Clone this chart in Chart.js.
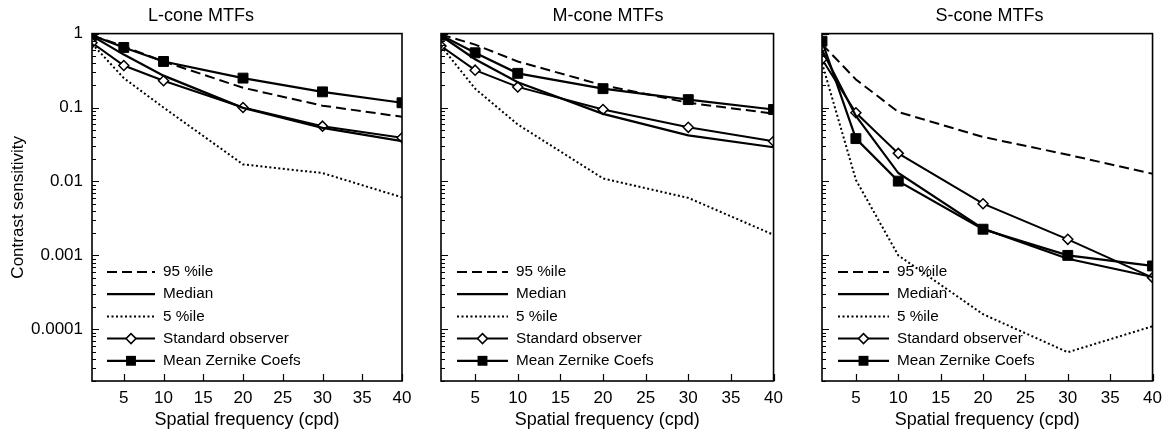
<!DOCTYPE html>
<html>
<head>
<meta charset="utf-8">
<script src="https://cdn.jsdelivr.net/npm/chart.js@4"></script>
<style>
  body { margin: 0; background: #fff; }
  .panel { position: absolute; top: 0; height: 434px; }
</style>
</head>
<body>
<div class="panel" style="left:0px;width:420px"><canvas id="c1" width="420" height="434"></canvas></div>
<div class="panel" style="left:420px;width:370px"><canvas id="c2" width="370" height="434"></canvas></div>
<div class="panel" style="left:790px;width:379px"><canvas id="c3" width="379" height="434"></canvas></div>
<script>
// spatial frequencies sampled (cpd)
const freqs = [1, 5, 10, 20, 30, 40];
const xTicks = [5, 10, 15, 20, 25, 30, 35, 40];
const yTicks = [0.0001, 0.001, 0.01, 0.1, 1];
const seriesNames = ['95 %ile', 'Median', '5 %ile', 'Standard observer', 'Mean Zernike Coefs'];

// L-cone
const lP95 = [0.95, 0.67, 0.42, 0.185, 0.106, 0.075];
const lMedian = [0.93, 0.52, 0.27, 0.099, 0.053, 0.035];
const lP5 = [0.73, 0.25, 0.1, 0.017, 0.013, 0.0061];
const lStd = [0.75, 0.37, 0.23, 0.1, 0.056, 0.039];
const lZern = [0.95, 0.65, 0.42, 0.25, 0.163, 0.116];
// M-cone
const mP95 = [0.97, 0.71, 0.42, 0.2, 0.116, 0.083];
const mMedian = [0.93, 0.45, 0.22, 0.082, 0.042, 0.029];
const mP5 = [0.68, 0.18, 0.059, 0.011, 0.006, 0.0019];
const mStd = [0.68, 0.32, 0.19, 0.094, 0.054, 0.035];
const mZern = [0.95, 0.55, 0.29, 0.18, 0.128, 0.094];
// S-cone
const sP95 = [0.72, 0.24, 0.087, 0.04, 0.023, 0.0127];
const sMedian = [0.6, 0.077, 0.013, 0.0023, 0.0009, 0.00051];
const sP5 = [0.4, 0.0105, 0.001, 0.00016, 0.000049, 0.00011];
const sStd = [0.45, 0.085, 0.024, 0.005, 0.00165, 0.0005];
const sZern = [0.79, 0.038, 0.0101, 0.00226, 0.001, 0.00072];

const FONT = "'Liberation Sans', Arial, Helvetica, sans-serif";

function pts(vals) {
    return freqs.map((f, i) => ({ x: f, y: vals[i] }));
}

function makeDatasets(p95, med, p5, std, zern) {
    return [{
        label: seriesNames[0], data: pts(p95), borderColor: '#000', borderWidth: 2,
        borderDash: [10, 5], pointRadius: 0
    }, {
        label: seriesNames[1], data: pts(med), borderColor: '#000', borderWidth: 2.2,
        pointRadius: 0
    }, {
        label: seriesNames[2], data: pts(p5), borderColor: '#000', borderWidth: 2,
        borderDash: [2, 2.5], pointRadius: 0
    }, {
        label: seriesNames[3], data: pts(std), borderColor: '#000', borderWidth: 2,
        pointStyle: 'rectRot', pointRadius: 5, pointBackgroundColor: '#fff',
        pointBorderColor: '#000', pointBorderWidth: 1.5
    }, {
        label: seriesNames[4], data: pts(zern), borderColor: '#000', borderWidth: 2.2,
        pointStyle: 'rect', pointRadius: 7, pointBackgroundColor: '#000',
        pointBorderColor: '#000', pointBorderWidth: 1
    }];
}

// frame + inward tick marks
const frameTicks = {
    id: 'frameTicks',
    afterDatasetsDraw(chart) {
        const { ctx, chartArea: a, scales } = chart;
        ctx.save();
        ctx.strokeStyle = '#000';
        ctx.lineWidth = 1.2;
        ctx.beginPath();
        for (let k = -5; k <= 0; k++) {
            for (let m = 1; m <= 9; m++) {
                const v = m * Math.pow(10, k);
                if (v < scales.y.min * 0.999 || v > 1.0001) continue;
                const y = Math.round(scales.y.getPixelForValue(v)) + 0.5;
                ctx.moveTo(a.left, y);
                ctx.lineTo(a.left + (m === 1 ? 7 : 4), y);
            }
        }
        xTicks.forEach(v => {
            const x = Math.round(scales.x.getPixelForValue(v)) + 0.5;
            ctx.moveTo(x, a.bottom);
            ctx.lineTo(x, a.bottom - 7);
        });
        ctx.stroke();
        ctx.lineWidth = 1.6;
        ctx.strokeRect(a.left, a.top, a.right - a.left, a.bottom - a.top);
        ctx.restore();
    }
};

// legend inside the plot, bottom-left
const insetLegend = {
    id: 'insetLegend',
    afterDraw(chart, args, opts) {
        const { ctx, chartArea: a } = chart;
        ctx.save();
        ctx.font = '15.3px ' + FONT;
        ctx.fillStyle = '#000';
        ctx.textBaseline = 'middle';
        chart.data.datasets.forEach((ds, i) => {
            const y = a.bottom - 109 + i * 22.2;
            const x0 = a.left + opts.dx;
            const x1 = x0 + opts.len;
            ctx.strokeStyle = '#000';
            ctx.lineWidth = ds.borderWidth;
            ctx.setLineDash(ds.borderDash || []);
            ctx.beginPath();
            ctx.moveTo(x0, y);
            ctx.lineTo(x1, y);
            ctx.stroke();
            ctx.setLineDash([]);
            const cx = (x0 + x1) / 2;
            if (ds.pointStyle === 'rectRot') {
                const r = ds.pointRadius;
                ctx.beginPath();
                ctx.moveTo(cx - r, y); ctx.lineTo(cx, y - r);
                ctx.lineTo(cx + r, y); ctx.lineTo(cx, y + r);
                ctx.closePath();
                ctx.fillStyle = '#fff'; ctx.fill();
                ctx.lineWidth = ds.pointBorderWidth; ctx.stroke();
                ctx.fillStyle = '#000';
            } else if (ds.pointStyle === 'rect') {
                const s = ds.pointRadius * Math.SQRT1_2;
                ctx.fillRect(cx - s, y - s, 2 * s, 2 * s);
            }
            ctx.fillText(ds.label, x1 + 8, y);
        });
        ctx.restore();
    }
};

function makeChart(id, title, datasets, pad, yWidth, showY, legendOpts) {
    return new Chart(document.getElementById(id), {
        type: 'line',
        data: { datasets: datasets },
        options: {
            responsive: false,
            animation: false,
            layout: { padding: { left: pad.left, right: pad.right, top: 0, bottom: 0 } },
            elements: { line: { tension: 0 } },
            plugins: {
                legend: { display: false },
                tooltip: { enabled: false },
                title: {
                    display: true, text: title, color: '#000',
                    font: { family: FONT, size: 18, weight: 'normal' },
                    padding: { top: 5, bottom: 7 }
                },
                insetLegend: legendOpts
            },
            scales: {
                x: {
                    type: 'linear', min: 1, max: 40,
                    grid: { display: false, drawTicks: false }, border: { display: false },
                    afterBuildTicks: s => { s.ticks = xTicks.map(v => ({ value: v })); },
                    afterFit: s => { s.height = 53; },
                    ticks: {
                        color: '#000', padding: 7, maxRotation: 0,
                        font: { family: FONT, size: 17 }
                    },
                    title: {
                        display: true, text: 'Spatial frequency (cpd)', color: '#000',
                        font: { family: FONT, size: 18 }, padding: { top: 0, bottom: 3 }
                    }
                },
                y: {
                    type: 'logarithmic', min: 0.00002, max: 1,
                    grid: { display: false, drawTicks: false }, border: { display: false },
                    afterBuildTicks: s => { s.ticks = yTicks.map(v => ({ value: v })); },
                    afterFit: s => { s.width = yWidth; },
                    ticks: {
                        display: showY, color: '#000', padding: 9,
                        font: { family: FONT, size: 17 },
                        callback: v => String(v)
                    },
                    title: {
                        display: showY, text: 'Contrast sensitivity', color: '#000',
                        font: { family: FONT, size: 17 }, padding: { top: 8, bottom: 0 }
                    }
                }
            }
        },
        plugins: [frameTicks, insetLegend]
    });
}

makeChart('c1', 'L-cone MTFs', makeDatasets(lP95, lMedian, lP5, lStd, lZern),
    { left: 0, right: 18 }, 92, true, { dx: 15, len: 48 });
makeChart('c2', 'M-cone MTFs', makeDatasets(mP95, mMedian, mP5, mStd, mZern),
    { left: 21, right: 15 }, 0, false, { dx: 16, len: 51 });
makeChart('c3', 'S-cone MTFs', makeDatasets(sP95, sMedian, sP5, sStd, sZern),
    { left: 32, right: 12 }, 0, false, { dx: 16, len: 51 });
</script>
</body>
</html>
